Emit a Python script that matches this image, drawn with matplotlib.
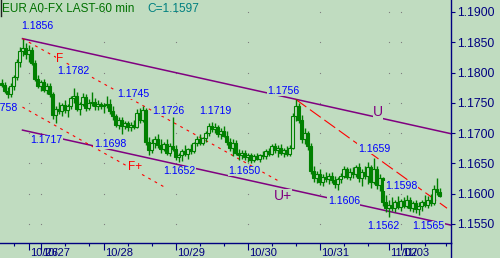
import numpy as np
import matplotlib.pyplot as plt
from matplotlib import transforms
from matplotlib.lines import Line2D

plt.rcParams['font.family'] = ['Liberation Sans', 'DejaVu Sans']

# EUR 60 min Kerzen, Werte in 1/10000
opens = [11782, 11779, 11770, 11764, 11778, 11792, 11818, 11836, 11840, 11830,
         11838, 11816, 11790, 11778, 11784, 11772, 11778, 11764, 11730, 11740,
         11736, 11746, 11738, 11744, 11758, 11762, 11740, 11748, 11760, 11742,
         11750, 11752, 11744, 11748, 11744, 11746, 11748, 11736, 11728, 11714,
         11722, 11712, 11716, 11710, 11714, 11710, 11734, 11722, 11738, 11686,
         11672, 11684, 11690, 11680, 11674, 11682, 11668, 11678, 11674, 11660,
         11664, 11670, 11666, 11674, 11670, 11684, 11690, 11684, 11692, 11700,
         11712, 11706, 11710, 11698, 11704, 11696, 11686, 11676, 11684, 11668,
         11664, 11668, 11660, 11664, 11656, 11662, 11658, 11664, 11662, 11670,
         11666, 11678, 11672, 11676, 11668, 11672, 11666, 11676, 11728, 11744,
         11722, 11690, 11700, 11678, 11638, 11626, 11632, 11620, 11628, 11624,
         11630, 11622, 11616, 11624, 11630, 11640, 11628, 11636, 11632, 11644,
         11626, 11636, 11630, 11644, 11620, 11640, 11614, 11626, 11586, 11576,
         11582, 11576, 11586, 11578, 11588, 11580, 11590, 11576, 11584, 11574,
         11580, 11586, 11582, 11590, 11584, 11608, 11602]
highs = [11790, 11784, 11776, 11782, 11796, 11822, 11842, 11856, 11848, 11845,
         11842, 11820, 11796, 11788, 11790, 11782, 11782, 11768, 11744, 11752,
         11750, 11754, 11748, 11762, 11774, 11768, 11752, 11766, 11764, 11756,
         11768, 11758, 11754, 11752, 11750, 11762, 11756, 11744, 11732, 11726,
         11726, 11720, 11720, 11718, 11722, 11740, 11742, 11745, 11742, 11694,
         11690, 11696, 11698, 11690, 11686, 11690, 11684, 11726, 11680, 11668,
         11674, 11680, 11676, 11682, 11686, 11696, 11698, 11694, 11704, 11716,
         11719, 11716, 11714, 11708, 11712, 11704, 11692, 11690, 11688, 11674,
         11672, 11672, 11668, 11668, 11666, 11668, 11666, 11670, 11674, 11676,
         11682, 11684, 11680, 11682, 11676, 11678, 11680, 11734, 11756, 11750,
         11730, 11708, 11704, 11684, 11646, 11638, 11640, 11632, 11636, 11634,
         11636, 11630, 11628, 11634, 11646, 11644, 11642, 11644, 11648, 11650,
         11640, 11646, 11652, 11648, 11659, 11646, 11632, 11628, 11598, 11590,
         11594, 11590, 11596, 11592, 11594, 11598, 11594, 11588, 11590, 11586,
         11590, 11598, 11596, 11600, 11614, 11626, 11610]
lows = [11776, 11766, 11758, 11760, 11772, 11788, 11810, 11828, 11822, 11818,
        11812, 11786, 11774, 11770, 11768, 11764, 11760, 11724, 11717, 11732,
        11728, 11734, 11726, 11740, 11750, 11736, 11730, 11744, 11736, 11738,
        11744, 11738, 11738, 11740, 11734, 11742, 11732, 11722, 11710, 11706,
        11698, 11706, 11704, 11704, 11706, 11708, 11716, 11718, 11680, 11664,
        11668, 11676, 11676, 11668, 11670, 11664, 11662, 11670, 11656, 11652,
        11654, 11662, 11658, 11666, 11668, 11678, 11680, 11680, 11686, 11696,
        11702, 11700, 11694, 11690, 11694, 11680, 11670, 11662, 11664, 11656,
        11658, 11656, 11652, 11650, 11652, 11656, 11652, 11658, 11658, 11662,
        11664, 11668, 11660, 11664, 11660, 11662, 11662, 11674, 11720, 11716,
        11684, 11682, 11672, 11632, 11620, 11618, 11614, 11612, 11620, 11616,
        11618, 11610, 11606, 11618, 11626, 11624, 11622, 11626, 11628, 11620,
        11612, 11624, 11616, 11610, 11616, 11608, 11604, 11580, 11570, 11562,
        11572, 11570, 11574, 11572, 11576, 11576, 11572, 11570, 11568, 11565,
        11572, 11578, 11576, 11580, 11582, 11598, 11594]
closes = [11779, 11770, 11764, 11778, 11792, 11818, 11836, 11840, 11830, 11838,
          11816, 11790, 11778, 11784, 11772, 11778, 11764, 11730, 11740, 11736,
          11746, 11738, 11744, 11758, 11762, 11740, 11748, 11760, 11742, 11750,
          11752, 11744, 11748, 11744, 11746, 11748, 11736, 11728, 11714, 11722,
          11712, 11716, 11710, 11714, 11710, 11734, 11722, 11738, 11686, 11672,
          11684, 11690, 11680, 11674, 11682, 11668, 11678, 11674, 11660, 11664,
          11670, 11666, 11674, 11670, 11684, 11690, 11684, 11692, 11700, 11712,
          11706, 11710, 11698, 11704, 11696, 11686, 11676, 11684, 11668, 11664,
          11668, 11660, 11664, 11656, 11662, 11658, 11664, 11662, 11670, 11666,
          11678, 11672, 11676, 11668, 11672, 11666, 11676, 11728, 11744, 11722,
          11690, 11700, 11678, 11638, 11626, 11632, 11620, 11628, 11624, 11630,
          11622, 11616, 11624, 11630, 11640, 11628, 11636, 11632, 11644, 11626,
          11636, 11630, 11644, 11620, 11640, 11614, 11626, 11586, 11576, 11582,
          11576, 11586, 11578, 11588, 11580, 11590, 11576, 11584, 11574, 11580,
          11586, 11582, 11590, 11584, 11608, 11602, 11597]

# x-Achse (Stunden-Index)
day_ticks = [9, 13, 34, 58, 82, 106, 129, 133]
day_labels = ['10/26', '10/27', '10/28', '10/29', '10/30', '10/31', '11/02', '11/03']
hour_ticks = [4, 21, 29, 42, 50, 66, 74, 90, 98, 114, 122, 141, 148]
price_ticks = [1.1550, 1.1600, 1.1650, 1.1700, 1.1750, 1.1800, 1.1850, 1.1900]

# markierte Hochs / Tiefs
pivot_text = ['1.1856', '1.1782', '1.1745', '1.1758', '1.1717', '1.1698', '1.1726', '1.1719',
              '1.1652', '1.1650', '1.1756', '1.1659', '1.1598', '1.1606', '1.1562', '1.1565']
pivot_x = [6.5, 18.5, 38.5, 5.2, 9.5, 30.8, 50.2, 65.8, 53.8, 75.5, 88.5, 118.8, 127.8, 108.8, 121.8, 136.8]
pivot_y = [1.18769, 1.18026, 1.17646, 1.17423, 1.16887, 1.16821, 1.17365, 1.17365,
           1.16375, 1.16375, 1.17696, 1.16746, 1.16127, 1.15880, 1.15467, 1.15467]

# Trendkanal (U / U+) und Faecherlinien (F / F+)
chan_upper = [(7, 1.1856), (98, 1.1756)]
chan_lower = [(7, 1.1705), (129, 1.1571)]
fan_f = [(7, 1.1856), (92, 1.1622)]
fan_fplus = [(7, 1.1743), (55, 1.1609)]
fan_2 = [(98, 1.1756), (148.5, 1.1576)]

bg = '#C0DCC0'
green = '#008000'
navy = '#000080'
purple = '#800080'
x_max = 149.83

fig = plt.figure(figsize=(5, 2.58), dpi=100, facecolor=bg)
ax = fig.add_axes([0, 15 / 258, 451 / 500, 243 / 258])
ax.set_facecolor(bg)

o = np.array(opens) / 1e4
h = np.array(highs) / 1e4
l = np.array(lows) / 1e4
c = np.array(closes) / 1e4
x = np.arange(len(o))

# Dochte und Koerper
ax.vlines(x, l, h, color=green, lw=1.0, zorder=3)
up = c >= o
ax.bar(x[up], (c - o)[up], bottom=o[up], width=0.8, facecolor=bg, edgecolor=green, lw=0.8, zorder=4)
ax.bar(x[~up], (c - o)[~up], bottom=o[~up], width=0.8, color=green, edgecolor=green, lw=0.8, zorder=4)

# Gitterpunkte
gx, gy = np.meshgrid(day_ticks, price_ticks)
ax.plot(gx.ravel(), gy.ravel(), 's', color='#808080', ms=0.8, mew=0, zorder=1)


def extend(p, q, x_end):
    k = (q[1] - p[1]) / (q[0] - p[0])
    return [p[0], x_end], [p[1], p[1] + k * (x_end - p[0])]


for line in (chan_upper, chan_lower):
    xs, ys = extend(line[0], line[1], x_max)
    ax.plot(xs, ys, color=purple, lw=1.1, zorder=2)

for line, dash in ((fan_f, (2.5, 4)), (fan_fplus, (2.5, 4)), (fan_2, (12, 4))):
    (x0, y0), (x1, y1) = line
    ax.plot([x0, x1], [y0, y1], color='red', lw=0.8, dashes=dash, zorder=2)

box = dict(facecolor=bg, edgecolor='none', pad=0.3)
for t, px_, py_ in zip(pivot_text, pivot_x, pivot_y):
    ha = 'right' if t == '1.1758' else 'left'
    ax.text(px_, py_, t, color='#0000FF', fontsize=7.6, ha=ha, va='center', bbox=box, zorder=5)

ax.text(19.5, 1.18224, 'F', color='red', fontsize=8.5, ha='center', va='center', bbox=box, zorder=5)
ax.text(44.5, 1.16433, 'F+', color='red', fontsize=8.5, ha='center', va='center', bbox=box, zorder=5)
ax.text(125.5, 1.17341, 'U', color=purple, fontsize=10, ha='center', va='center', bbox=box, zorder=5)
ax.text(93.8, 1.15962, 'U+', color=purple, fontsize=10, ha='center', va='center', bbox=box, zorder=5)

ax.set_xlim(-0.5, x_max)
ax.set_ylim(1.15186, 1.19198)

# Achsen
for s in ('left', 'top'):
    ax.spines[s].set_visible(False)
for s in ('right', 'bottom'):
    ax.spines[s].set_color(navy)
    ax.spines[s].set_linewidth(1.0)

ax.yaxis.tick_right()
ax.set_yticks(price_ticks)
ax.set_yticklabels(['%.4f' % v for v in price_ticks])
ax.tick_params(axis='y', direction='out', length=3, width=0.8, colors=navy, labelsize=8.7, pad=1.5)

ax.set_xticks(day_ticks)
ax.set_xticklabels(day_labels, ha='left')
ax.set_xticks(hour_ticks, minor=True)
ax.tick_params(axis='x', which='major', direction='out', length=5, width=0.8, colors=navy, labelsize=8, pad=-1.5)
ax.tick_params(axis='x', which='minor', direction='out', length=2.5, width=0.8, colors=navy)
shift = transforms.ScaledTranslation(2 / 100, 0, fig.dpi_scale_trans)
for lab in ax.get_xticklabels():
    lab.set_transform(lab.get_transform() + shift)

# rechte Achse bis zum unteren Rand
fig.add_artist(Line2D([451 / 500, 451 / 500], [0, 15 / 258], color=navy, lw=1.0))
fig.add_artist(Line2D([0.002, 0.002], [1, 1 - 16 / 258], color='#202020', lw=1.0))

fig.text(2 / 500, 1 - 3 / 258, 'EUR A0-FX LAST-60 min', color='#007000', fontsize=8.5, ha='left', va='top')
fig.text(147 / 500, 1 - 3 / 258, 'C=1.1597', color='#008080', fontsize=8.6, ha='left', va='top')

fig.savefig('out.png', dpi=100, facecolor=bg)
